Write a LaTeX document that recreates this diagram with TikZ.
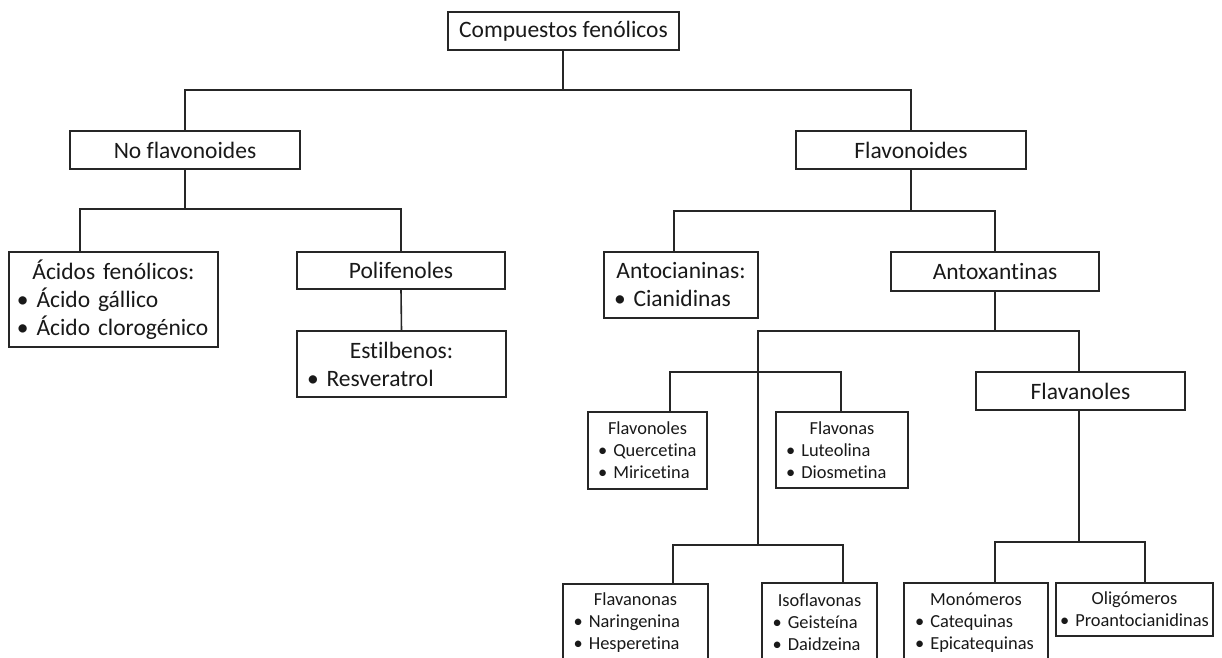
\documentclass[tikz,border=0pt]{standalone}
\usepackage{fontspec}
\setmainfont{Carlito}[Ligatures={NoCommon}]
\newcommand{\ttl}[1]{\makebox[\linewidth]{#1}}
\newcommand{\itm}[1]{\mbox{•\ #1}}
\begin{document}
\begin{tikzpicture}[x=1bp,y=-1bp,
  box/.style={draw=black!85, line width=1.2bp, rectangle, inner sep=0pt, align=center, text=black!90},
  lbox/.style={draw=black!85, line width=1.2bp, rectangle, inner sep=0pt, align=left, text=black!90},
  big/.style={font=\fontsize{23.5bp}{28bp}\selectfont},
  small/.style={font=\fontsize{18.4bp}{22bp}\selectfont},
  conn/.style={draw=black!85, line width=1.6bp}]
\path[use as bounding box, fill=white] (0,0) rectangle (1222,658);
\clip (0,0) rectangle (1222,658);

% boxes
\node[box,big,minimum width=231bp,minimum height=38bp] (comp) at (563.5,31) {Compuestos fenólicos};
\node[box,big,minimum width=230bp,minimum height=38bp] (nof) at (185,150) {No flavonoides};
\node[box,big,minimum width=230bp,minimum height=38bp] (flav) at (911,150) {Flavonoides};
\node[lbox,big,minimum width=209bp,text width=193bp,minimum height=95bp] (acid) at (113.5,299.5) {\ttl{Ácidos fenólicos:}\\\itm{Ácido gállico}\\\itm{Ácido clorogénico}};
\node[box,big,minimum width=208bp,minimum height=37bp] (poli) at (401,270.5) {Polifenoles};
\node[lbox,big,minimum width=209bp,text width=189bp,minimum height=66bp] (estil) at (401.5,364) {\ttl{Estilbenos:}\\\itm{Resveratrol}};
\node[lbox,big,minimum width=154bp,text width=134bp,minimum height=66bp] (antoc) at (681,285) {\ttl{Antocianinas:}\\\itm{Cianidinas}};
\node[box,big,minimum width=208bp,minimum height=39bp] (antox) at (995,271.5) {Antoxantinas};
\node[box,big,minimum width=209bp,minimum height=38bp] (flavanoles) at (1080.5,391) {Flavanoles};
\node[lbox,small,minimum width=119bp,text width=99bp,minimum height=77bp] (flavonoles) at (647.5,450.5) {\ttl{Flavonoles}\\\itm{Quercetina}\\\itm{Miricetina}};
\node[lbox,small,minimum width=132bp,text width=112bp,minimum height=76bp] (flavonas) at (842,450) {\ttl{Flavonas}\\\itm{Luteolina}\\\itm{Diosmetina}};
\node[lbox,small,minimum width=145bp,text width=124bp,minimum height=78bp] (flavanonas) at (635.5,623) {\ttl{Flavanonas}\\\itm{Naringenina}\\\itm{Hesperetina}};
\node[lbox,small,minimum width=115bp,text width=94bp,minimum height=79bp] (isofl) at (819.5,622.5) {\ttl{Isoflavonas}\\\itm{Geisteína}\\\itm{Daidzeina}};
\node[lbox,small,minimum width=144bp,text width=122bp,minimum height=79bp] (monom) at (976,622.5) {\ttl{Monómeros}\\\itm{Catequinas}\\\itm{Epicatequinas}};
\node[lbox,small,minimum width=157bp,text width=149bp,minimum height=53bp] (oligo) at (1134.5,609.5) {\ttl{Oligómeros}\\\itm{Proantocianidinas}};

% junction coordinates
\coordinate (j1) at (563,90);
\coordinate (b2l) at (80,209);
\coordinate (b3l) at (674,211);
\coordinate (b4l) at (758,331);
\coordinate (b4r) at (1079,331);
\coordinate (b5l) at (670,372);
\coordinate (b5r) at (841,372);
\coordinate (b6) at (758,545);
\coordinate (b6l) at (673,545);
\coordinate (b6r) at (843,545);
\coordinate (b7l) at (995,542);
\coordinate (b7r) at (1145,542);

% connectors
\draw[conn] (comp.south -| j1) -- (j1);
\draw[conn] (nof.north) |- (j1) -| (flav.north);
\draw[conn] (nof.south) -- (nof.south |- b2l);
\draw[conn] (b2l |- acid.north) -- (b2l) -| (poli.north);
\draw[conn] (poli.south) -- (estil.north);
\draw[conn] (flav.south) -- (flav.south |- b3l);
\draw[conn] (b3l |- antoc.north) -- (b3l) -| (antox.north);
\draw[conn] (antox.south) -- (antox.south |- b4l);
\draw[conn] (b6) -- (b4l) -- (b4r) -- (b4r |- flavanoles.north);
\draw[conn] (b5l |- flavonoles.north) -- (b5l) -- (b5r) -- (b5r |- flavonas.north);
\draw[conn] (b6l |- flavanonas.north) -- (b6l) -- (b6r) -- (b6r |- isofl.north);
\draw[conn] (flavanoles.south -| b4r) -- (b4r |- b7l);
\draw[conn] (b7l |- monom.north) -- (b7l) -- (b7r) -- (b7r |- oligo.north);
\end{tikzpicture}
\end{document}
